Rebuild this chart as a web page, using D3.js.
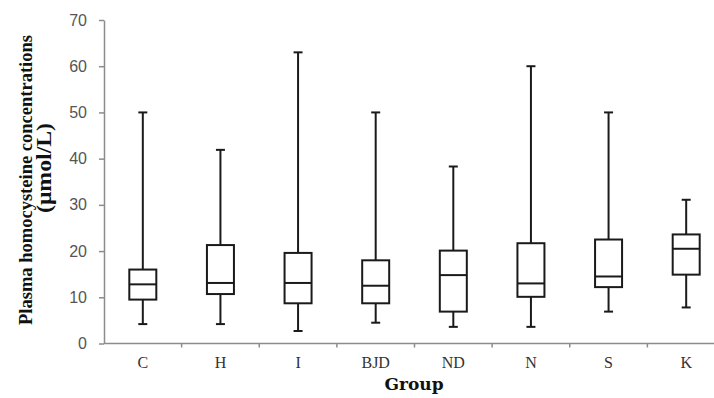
<!DOCTYPE html>
<html>
    <head>
        <meta charset="utf-8" />
        <title>Plasma homocysteine by group</title>
        <script src="https://d3js.org/d3.v7.min.js"></script>
        <style>
            body {
                margin: 0;
                background: #fff;
            }
            .axis path,
            .axis line {
                stroke: #8c8c8c;
                stroke-width: 1.5px;
            }
            .box rect,
            .box line {
                stroke: #1a1a1a;
                stroke-width: 2px;
                fill: none;
            }
            .ytitle {
                font-family: "Liberation Serif", "Times New Roman", serif;
                font-weight: bold;
                fill: #111;
            }
        </style>
    </head>
    <body>
        <script>
            const groups = ['C', 'H', 'I', 'BJD', 'ND', 'N', 'S', 'K'];
            const mins = [4.2, 4.2, 2.7, 4.5, 3.6, 3.6, 6.9, 7.8];
            const q1s = [9.5, 10.7, 8.7, 8.7, 6.9, 10.1, 12.2, 14.9];
            const medians = [12.8, 13.1, 13.1, 12.5, 14.8, 13.0, 14.5, 20.5];
            const q3s = [16.0, 21.3, 19.6, 18.0, 20.1, 21.7, 22.5, 23.6];
            const maxs = [50, 41.9, 63, 50, 38.3, 60, 50, 31.1];
            const yTicks = [0, 10, 20, 30, 40, 50, 60, 70];

            const width = 714, height = 398;
            const svg = d3.select('body').append('svg')
                .attr('width', width)
                .attr('height', height);

            const x = d3.scaleBand().domain(groups).range([104, 725]).padding(0);
            const y = d3.scaleLinear().domain([0, 70]).range([343.5, 20]);

            // y axis
            svg.append('g')
                .attr('class', 'axis')
                .attr('transform', 'translate(104,0)')
                .call(d3.axisLeft(y).tickValues(yTicks).tickSize(5).tickSizeOuter(0).tickPadding(12))
                .call(g => g.selectAll('text')
                    .attr('fill', '#555')
                    .style('font-family', '"Liberation Sans", Arial, sans-serif')
                    .style('font-size', '16px'));

            // x axis, ticks on band edges
            const xAxis = svg.append('g')
                .attr('class', 'axis')
                .attr('transform', `translate(0,${y(0)})`);
            xAxis.append('line')
                .attr('x1', 104).attr('x2', width)
                .attr('y1', 0).attr('y2', 0);
            xAxis.selectAll('.edge')
                .data(groups.slice(1))
                .join('line')
                .attr('class', 'edge')
                .attr('x1', d => x(d)).attr('x2', d => x(d))
                .attr('y1', 0).attr('y2', 4);
            xAxis.selectAll('text')
                .data(groups)
                .join('text')
                .attr('x', d => x(d) + x.bandwidth() / 2)
                .attr('y', 24)
                .attr('text-anchor', 'middle')
                .attr('fill', '#333')
                .style('font-family', '"Liberation Serif", "Times New Roman", serif')
                .style('font-size', '16px')
                .text(d => d);

            // boxes
            const data = groups.map((g, i) => ({
                g, min: mins[i], q1: q1s[i], med: medians[i], q3: q3s[i], max: maxs[i]
            }));
            const bw = 27, cap = 9;
            const box = svg.selectAll('.box')
                .data(data)
                .join('g')
                .attr('class', 'box')
                .attr('transform', d => `translate(${x(d.g) + x.bandwidth() / 2},0)`);

            box.append('line')
                .attr('x1', 0).attr('x2', 0)
                .attr('y1', d => y(d.max)).attr('y2', d => y(d.q3));
            box.append('line')
                .attr('x1', 0).attr('x2', 0)
                .attr('y1', d => y(d.q1)).attr('y2', d => y(d.min));
            box.append('line')
                .attr('x1', -cap / 2).attr('x2', cap / 2)
                .attr('y1', d => y(d.max)).attr('y2', d => y(d.max));
            box.append('line')
                .attr('x1', -cap / 2).attr('x2', cap / 2)
                .attr('y1', d => y(d.min)).attr('y2', d => y(d.min));
            box.append('rect')
                .attr('x', -bw / 2)
                .attr('width', bw)
                .attr('y', d => y(d.q3))
                .attr('height', d => y(d.q1) - y(d.q3));
            box.append('line')
                .attr('x1', -bw / 2).attr('x2', bw / 2)
                .attr('y1', d => y(d.med)).attr('y2', d => y(d.med));

            // axis titles
            svg.append('text')
                .attr('x', 414)
                .attr('y', 390)
                .attr('text-anchor', 'middle')
                .attr('fill', '#111')
                .style('font-family', '"DejaVu Serif", "Liberation Serif", serif')
                .style('font-weight', 'bold')
                .style('font-size', '17px')
                .text('Group');

            svg.append('text')
                .attr('class', 'ytitle')
                .attr('transform', 'translate(32,180) rotate(-90)')
                .attr('text-anchor', 'middle')
                .attr('textLength', 290)
                .attr('lengthAdjust', 'spacingAndGlyphs')
                .style('font-size', '19.5px')
                .text('Plasma homocysteine concentrations');
            svg.append('text')
                .attr('class', 'ytitle')
                .attr('transform', 'translate(51,168) rotate(-90)')
                .attr('text-anchor', 'middle')
                .attr('textLength', 90)
                .attr('lengthAdjust', 'spacingAndGlyphs')
                .style('font-size', '20px')
                .text('(μmol/L)');
        </script>
    </body>
</html>
